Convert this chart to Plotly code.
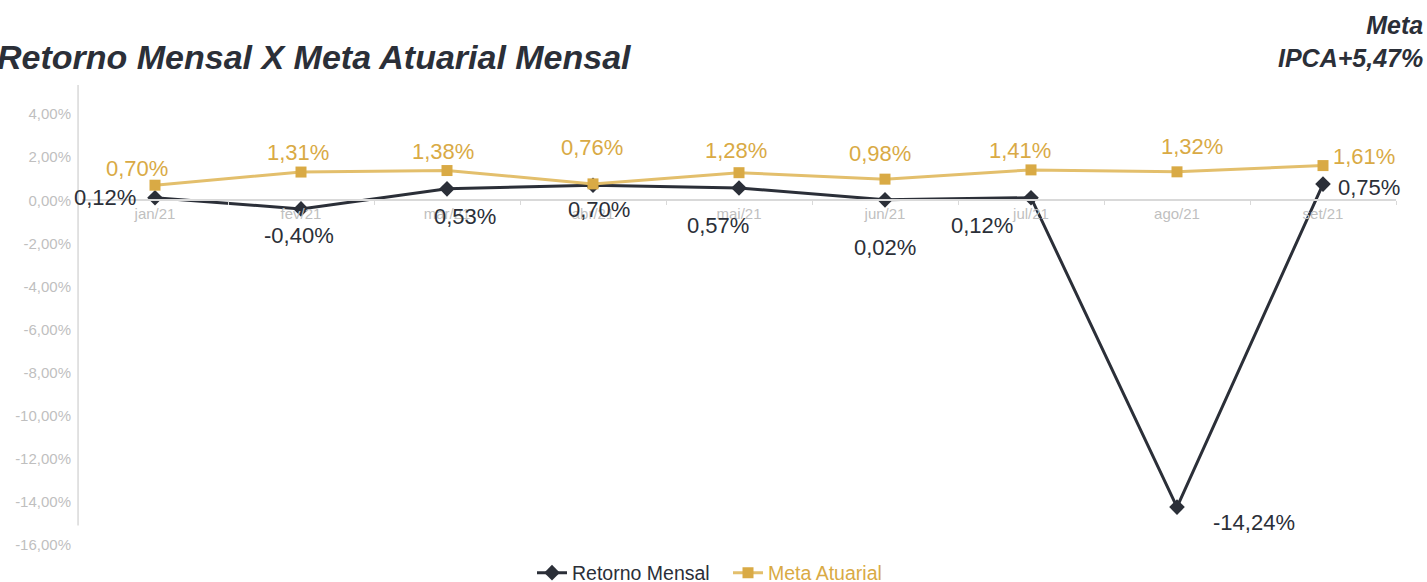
import plotly.graph_objects as go

# ---- data ----
months = ["jan/21", "fev/21", "mar/21", "abr/21", "mai/21", "jun/21", "jul/21", "ago/21", "set/21"]
retorno_mensal = [0.12, -0.40, 0.53, 0.70, 0.57, 0.02, 0.12, -14.24, 0.75]
meta_atuarial = [0.70, 1.31, 1.38, 0.76, 1.28, 0.98, 1.41, 1.32, 1.61]
y_ticks = [4, 2, 0, -2, -4, -6, -8, -10, -12, -14, -16]

# ---- styles ----
DARK = "#2b2f38"
GOLD = "#d9aa45"
GOLD_LINE = "#e3bf6c"
GREY_TXT = "#bfbfbf"
AXIS_GREY = "#d9d9d9"
FONT = "Liberation Sans, Arial, sans-serif"
Y_MIN, Y_MAX = -16.0, 5.35
AXIS_BOTTOM = -15.1
W, H = 1427, 582
# label offsets (px: right, down) relative to each point
ret_off = [(-50, 0), (-2, 27), (18, 28), (6, 24), (-21, 38), (0, 48), (-49, 28), (77, 15), (46, 3)]
meta_off = [(-18, -17), (-3, -20), (-4, -19), (-1, -36), (-3, -22), (-5, -26), (-11, -19), (15, -25), (41, -9)]


def fmt(v):
    return f"{v:.2f}".replace(".", ",") + "%"


fig = go.Figure()
fig.add_trace(go.Scatter(
    x=months, y=retorno_mensal, mode="lines+markers",
    name=f'<span style="color:{DARK}">Retorno Mensal</span>',
    line=dict(color=DARK, width=3),
    marker=dict(symbol="diamond", size=12, color=DARK),
))
fig.add_trace(go.Scatter(
    x=months, y=meta_atuarial, mode="lines+markers",
    name=f'<span style="color:{GOLD}">Meta Atuarial</span>',
    line=dict(color=GOLD_LINE, width=3),
    marker=dict(symbol="square", size=11, color=GOLD),
))

annotations = []
for m, v, (dx, dy) in zip(months, retorno_mensal, ret_off):
    annotations.append(dict(x=m, y=v, text=fmt(v), showarrow=False, xshift=dx, yshift=-dy,
                            font=dict(family=FONT, size=22, color=DARK)))
for m, v, (dx, dy) in zip(months, meta_atuarial, meta_off):
    annotations.append(dict(x=m, y=v, text=fmt(v), showarrow=False, xshift=dx, yshift=-dy,
                            font=dict(family=FONT, size=22, color=GOLD)))
annotations.append(dict(
    xref="paper", yref="paper", x=1, y=1, xanchor="right", yanchor="bottom",
    xshift=29, yshift=11, showarrow=False, align="right",
    text="Meta<br>IPCA+5,47%",
    font=dict(family=FONT, size=25, color=DARK, weight="bold", style="italic"),
))

zero_pos = (0 - Y_MIN) / (Y_MAX - Y_MIN)

fig.update_layout(
    width=W, height=H,
    margin=dict(l=82, r=31, t=85, b=37, autoexpand=False),
    paper_bgcolor="white", plot_bgcolor="white",
    showlegend=True,
    title=dict(
        text="Retorno Mensal X Meta Atuarial Mensal",
        xref="container", yref="container", x=0, xanchor="left", y=1 - 57 / H, yanchor="middle",
        pad=dict(l=-3, t=0, b=0, r=0),
        font=dict(family=FONT, size=34, color=DARK, weight="bold", style="italic"),
    ),
    legend=dict(
        orientation="h", xref="container", x=728 / W, xanchor="center",
        y=-(573 - 545) / 460, yanchor="middle",
        font=dict(family=FONT, size=19.5, color=DARK), bgcolor="rgba(0,0,0,0)",
        itemwidth=30, entrywidth=151,
    ),
    xaxis=dict(
        type="category", range=[-0.5, len(months) - 0.5],
        anchor="free", position=zero_pos,
        showline=True, linecolor=AXIS_GREY, linewidth=1.5,
        ticks="outside", tickson="boundaries", ticklen=4, tickcolor=AXIS_GREY,
        showgrid=False, zeroline=False,
        tickfont=dict(family=FONT, size=15, color=GREY_TXT),
    ),
    yaxis=dict(
        range=[Y_MIN, Y_MAX], tickvals=y_ticks, ticktext=[fmt(t) for t in y_ticks],
        showgrid=False, zeroline=False, showline=False, ticks="", ticklabelstandoff=10,
        tickfont=dict(family=FONT, size=15, color=GREY_TXT),
    ),
    annotations=annotations,
    shapes=[dict(type="line", xref="paper", yref="y", x0=-0.003, x1=-0.003, y0=AXIS_BOTTOM, y1=Y_MAX,
                 line=dict(color=AXIS_GREY, width=1.5), layer="below")],
)

fig.write_html("out.html", config={"displayModeBar": False},
               post_script="document.body.style.margin='0';")
